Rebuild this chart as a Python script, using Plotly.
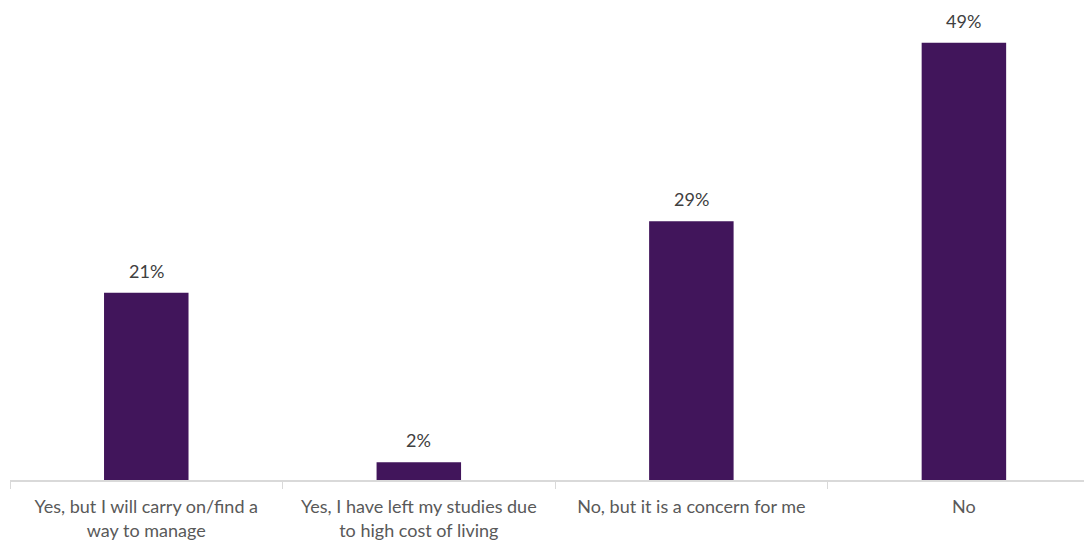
import plotly.graph_objects as go

categories = [
    "Yes, but I will carry on/find a<br>way to manage",
    "Yes, I have left my studies due<br>to high cost of living",
    "No, but it is a concern for me",
    "No",
]
values = [21, 2, 29, 49]
labels = [f"{v}%" for v in values]

FONT = "Lato, Open Sans, sans-serif"

fig = go.Figure(
    go.Bar(
        x=categories,
        y=values,
        marker=dict(color="#41155b", line=dict(width=0)),
        width=0.31,
    )
)

for c, v, t in zip(categories, values, labels):
    fig.add_annotation(
        x=c, y=v, text=t, showarrow=False,
        yanchor="bottom", yshift=9,
        font=dict(family=FONT, size=18, color="#404040"),
    )

fig.update_layout(
    width=1084,
    height=535,
    margin=dict(l=2, r=0, t=0, b=63),
    plot_bgcolor="white",
    paper_bgcolor="white",
    showlegend=False,
    font=dict(family=FONT, size=18, color="#595959"),
)
fig.update_xaxes(
    range=[-0.5, 3.47],
    showline=True,
    linecolor="#d9d9d9",
    linewidth=1.5,
    ticks="outside",
    tickson="boundaries",
    ticklen=7,
    tickcolor="#d9d9d9",
    tickfont=dict(family=FONT, size=18, color="#595959"),
    ticklabelstandoff=10,
    automargin=False,
)
fig.update_yaxes(
    range=[0, 52.9],
    visible=False,
    showgrid=False,
    zeroline=False,
)

fig.write_html("out.html")
